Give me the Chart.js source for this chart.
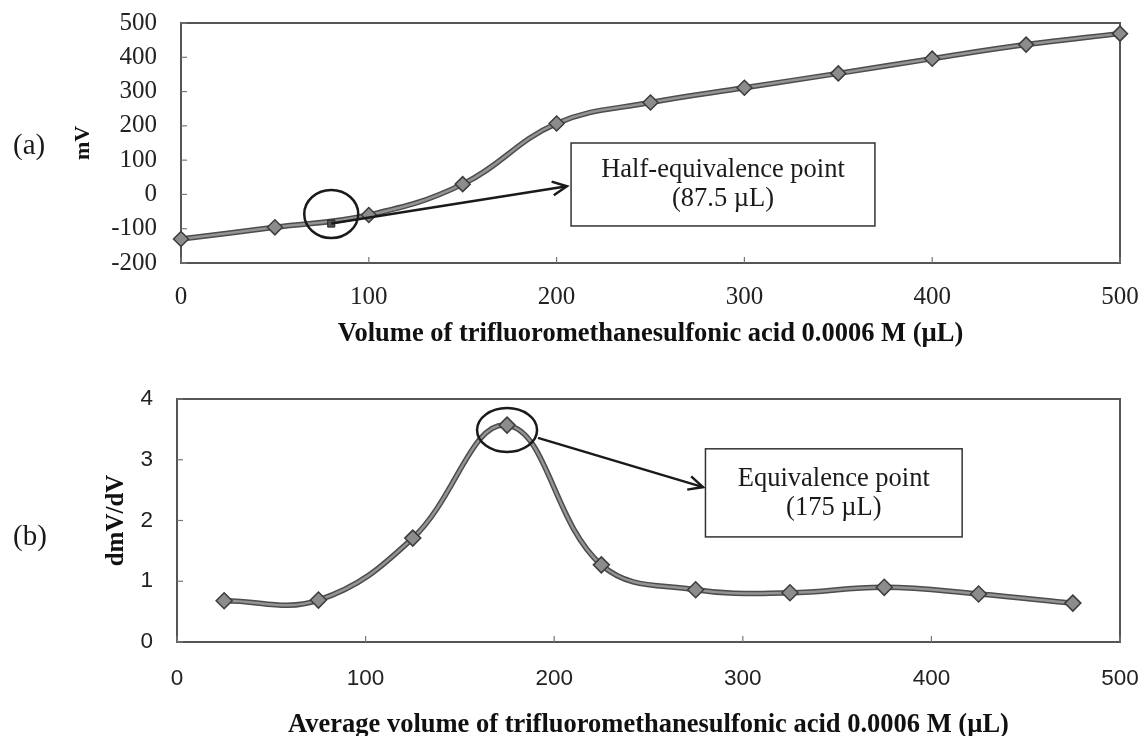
<!DOCTYPE html>
<html>
<head>
<meta charset="utf-8">
<script src="https://cdn.jsdelivr.net/npm/chart.js@4.4.1/dist/chart.umd.min.js"></script>
<style>
  html, body { margin: 0; padding: 0; background: #fff; }
  #wrap { position: relative; width: 1143px; height: 736px; }
  canvas { position: absolute; left: 0; }
</style>
</head>
<body>
<div id="wrap">
  <canvas id="chart-a" width="1143" height="350" style="top:0"></canvas>
  <canvas id="chart-b" width="1143" height="376" style="top:360px"></canvas>
</div>
<script>
// (a) titration curve
const volume = [0, 50, 100, 150, 200, 250, 300, 350, 400, 450, 500];
const mV = [-130, -96, -60, 30, 207, 268, 311, 353, 396, 437, 469];
const halfEqVolume = [80];
const halfEqMV = [-85];

// (b) first derivative
const avgVolume = [25, 75, 125, 175, 225, 275, 325, 375, 425, 475];
const dmVdV = [0.68, 0.69, 1.71, 3.57, 1.27, 0.86, 0.81, 0.90, 0.79, 0.64];

const serif = "'Liberation Serif', 'Times New Roman', serif";
const sans = "'Liberation Sans', Arial, sans-serif";

const lineDark = '#4d4d4d';
const lineCore = '#949494';

function pairs(xs, ys) {
    return xs.map((x, i) => ({ x, y: ys[i] }));
}

// Frame, inward ticks, circle, arrow, text box and panel label
function decorPlugin(opt) {
    return {
        id: 'decor',
        beforeDraw(chart) {
            const c = chart.ctx;
            c.save();
            c.fillStyle = '#fff';
            c.fillRect(0, 0, chart.width, chart.height);
            c.restore();
        },
        beforeDatasetsDraw(chart) {
            const { ctx: c, chartArea: a, scales: { x, y } } = chart;
            c.save();
            c.strokeStyle = '#555';
            c.lineWidth = 2;
            c.strokeRect(a.left, a.top, a.right - a.left, a.bottom - a.top);
            c.lineWidth = 1.2;
            c.strokeStyle = '#777';
            x.ticks.forEach(t => {
                const px = x.getPixelForValue(t.value);
                c.beginPath();
                c.moveTo(px, a.bottom);
                c.lineTo(px, a.bottom - 6);
                c.stroke();
            });
            y.ticks.forEach(t => {
                const py = y.getPixelForValue(t.value);
                c.beginPath();
                c.moveTo(a.left, py);
                c.lineTo(a.left + 6, py);
                c.stroke();
            });
            c.restore();
        },
        afterDraw(chart) {
            const { ctx: c, scales: { x, y } } = chart;
            c.save();
            c.strokeStyle = '#1a1a1a';
            c.lineWidth = 2.5;

            // circle
            const cx = x.getPixelForValue(opt.circle[0]);
            const cy = y.getPixelForValue(opt.circle[1]);
            c.beginPath();
            c.ellipse(cx, cy, opt.circle[2], opt.circle[3], 0, 0, Math.PI * 2);
            c.stroke();

            // arrow
            const x1 = x.getPixelForValue(opt.arrow[0]), y1 = y.getPixelForValue(opt.arrow[1]);
            const x2 = x.getPixelForValue(opt.arrow[2]), y2 = y.getPixelForValue(opt.arrow[3]);
            c.beginPath();
            c.moveTo(x1, y1);
            c.lineTo(x2, y2);
            c.stroke();
            const ang = Math.atan2(y2 - y1, x2 - x1);
            const head = 16;
            c.beginPath();
            c.moveTo(x2 - head * Math.cos(ang - 0.45), y2 - head * Math.sin(ang - 0.45));
            c.lineTo(x2, y2);
            c.lineTo(x2 - head * Math.cos(ang + 0.45), y2 - head * Math.sin(ang + 0.45));
            c.stroke();

            // box with text
            const bl = x.getPixelForValue(opt.box[0]), br = x.getPixelForValue(opt.box[1]);
            const bt = y.getPixelForValue(opt.box[2]), bb = y.getPixelForValue(opt.box[3]);
            c.lineWidth = 1.5;
            c.strokeStyle = '#333';
            c.strokeRect(bl, bt, br - bl, bb - bt);
            c.fillStyle = '#1a1a1a';
            c.font = '26.5px ' + serif;
            c.textAlign = 'center';
            c.textBaseline = 'middle';
            const mx = (bl + br) / 2, my = (bt + bb) / 2;
            c.fillText(opt.text[0], mx, my - 14);
            c.fillText(opt.text[1], mx, my + 15);

            // panel label
            c.textAlign = 'left';
            c.font = '29px ' + serif;
            c.fillText(opt.panel, 13, opt.panelY);
            c.restore();
        }
    };
}

function lineDatasets(xs, ys, radius) {
    const data = pairs(xs, ys);
    return [
        {
            data,
            borderColor: lineDark,
            borderWidth: 5.5,
            tension: 0.4,
            pointRadius: 0,
            clip: false,
            order: 3
        },
        {
            data,
            borderColor: lineCore,
            borderWidth: 2.5,
            tension: 0.4,
            pointStyle: 'rectRot',
            pointRadius: radius,
            pointBackgroundColor: '#8c8c8c',
            pointBorderColor: '#3c3c3c',
            pointBorderWidth: 1.5,
            clip: false,
            order: 2
        }
    ];
}

function axisOptions(o) {
    return {
        x: {
            type: 'linear',
            min: 0,
            max: 500,
            afterFit: s => {
                s.height = o.xHeight;
                s.paddingLeft = 0;
                s.paddingRight = 0;
            },
            grid: { display: false, drawTicks: false },
            border: { display: false },
            ticks: {
                stepSize: 100,
                padding: o.xPad,
                color: '#222',
                font: { family: o.tickFont, size: o.tickSize }
            },
            title: {
                display: true,
                text: o.xTitle,
                color: '#111',
                padding: { top: 0, bottom: 0 },
                font: { family: serif, size: 26.5, weight: 'bold', lineHeight: o.xTitleLH }
            }
        },
        y: {
            min: o.yMin,
            max: o.yMax,
            afterFit: s => {
                s.width = o.yWidth;
                s.paddingTop = 0;
                s.paddingBottom = 0;
            },
            grid: { display: false, drawTicks: false },
            border: { display: false },
            ticks: {
                stepSize: o.yStep,
                padding: 24,
                color: '#222',
                font: { family: o.tickFont, size: o.tickSize }
            },
            title: {
                display: true,
                text: o.yTitle,
                color: '#111',
                padding: { top: o.yTitlePad, bottom: 0 },
                font: { family: serif, size: o.yTitleSize, weight: 'bold' }
            }
        }
    };
}

new Chart(document.getElementById('chart-a'), {
    type: 'line',
    data: {
        datasets: [
            ...lineDatasets(volume, mV, 7.5),
            {
                data: pairs(halfEqVolume, halfEqMV),
                showLine: false,
                pointStyle: 'rect',
                pointRadius: 5,
                pointBackgroundColor: '#555',
                pointBorderColor: '#222',
                pointBorderWidth: 1,
                order: 1
            }
        ]
    },
    plugins: [decorPlugin({
        circle: [80, -57, 27, 24],
        arrow: [halfEqVolume[0], halfEqMV[0], 205.5, 24],
        box: [207.7, 369.5, 150, -92],
        text: ['Half-equivalence point', '(87.5 \u00b5L)'],
        panel: '(a)',
        panelY: 146
    })],
    options: {
        responsive: false,
        animation: false,
        layout: { padding: { left: 0, right: 23, top: 23, bottom: 0 } },
        plugins: { legend: { display: false }, tooltip: { enabled: false } },
        scales: axisOptions({
            xHeight: 87, xPad: 19, xTitleLH: 1.2,
            xTitle: 'Volume of trifluoromethanesulfonic acid 0.0006 M (\u00b5L)',
            yWidth: 181, yMin: -200, yMax: 500, yStep: 100,
            yTitle: 'mV', yTitlePad: 70, yTitleSize: 22,
            tickFont: serif, tickSize: 25
        })
    }
});

new Chart(document.getElementById('chart-b'), {
    type: 'line',
    data: { datasets: lineDatasets(avgVolume, dmVdV, 8) },
    plugins: [decorPlugin({
        circle: [175, 3.49, 30, 22],
        arrow: [191.4, 3.36, 278.9, 2.55],
        box: [280.2, 416.3, 3.18, 1.73],
        text: ['Equivalence point', '(175 \u00b5L)'],
        panel: '(b)',
        panelY: 177
    })],
    options: {
        responsive: false,
        animation: false,
        layout: { padding: { left: 0, right: 23, top: 39, bottom: 0 } },
        plugins: { legend: { display: false }, tooltip: { enabled: false } },
        scales: axisOptions({
            xHeight: 94, xPad: 23.5, xTitleLH: 0.8,
            xTitle: 'Average volume of trifluoromethanesulfonic acid 0.0006 M (\u00b5L)',
            yWidth: 177, yMin: 0, yMax: 4, yStep: 1,
            yTitle: 'dmV/dV', yTitlePad: 102, yTitleSize: 25,
            tickFont: sans, tickSize: 22.5
        })
    }
});
</script>
</body>
</html>
